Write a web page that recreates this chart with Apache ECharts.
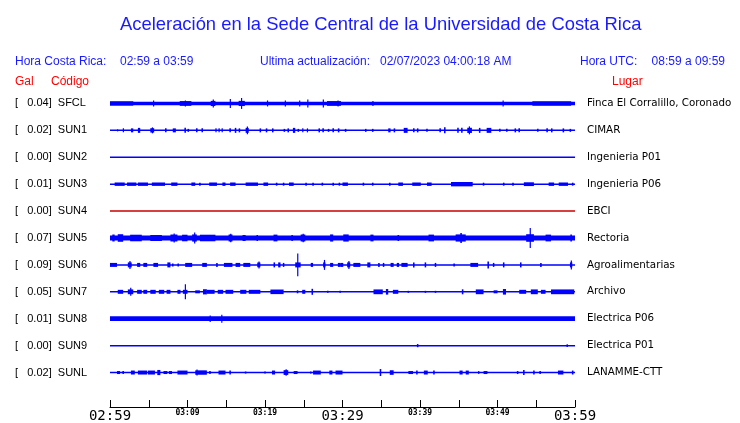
<!DOCTYPE html>
<html>
<head>
<meta charset="utf-8">
<script src="https://cdn.jsdelivr.net/npm/echarts@6/dist/echarts.min.js"></script>
<style>html,body{margin:0;padding:0;background:#fff}#c{width:740px;height:423px}</style>
</head>
<body>
<div id="c"></div>
<script>
// ---------------- DATA ----------------
const codes = ['SFCL','SUN1','SUN2','SUN3','SUN4','SUN5','SUN6','SUN7','SUN8','SUN9','SUNL'];
const galValues = [0.04,0.02,0.00,0.01,0.00,0.07,0.09,0.05,0.01,0.00,0.02];
const places = ['Finca El Corralillo, Coronado','CIMAR','Ingenieria P01','Ingenieria P06','EBCI','Rectoria','Agroalimentarias','Archivo','Electrica P06','Electrica P01','LANAMME-CTT'];
// minutes after 02:59 -> tick labels
const tickMinutes = [0,10,20,30,40,50,60];
const tickLabels = ['02:59','03:09','03:19','03:29','03:39','03:49','03:59'];
// background (noise) amplitude of each trace
const baseAmp = [1.8,0.75,0.75,0.75,0.75,2.5,0.75,0.75,2.4,0.75,0.75];
// bursts: [start minute, end minute, half amplitude]
const sfclEvents = [[0,3,2.2],[5.55,5.65,3],[9,10.5,2.4],[9.65,9.75,3],[13.0,13.6,2.6],[13.25,13.35,4],[15.45,15.55,4.5],[16.9,17.0,5.5],[16.6,17.4,2.6],[20.25,20.35,3],[22.55,22.65,3],[24.4,24.5,3],[25.45,25.55,4],[27.45,27.55,4],[28,29.8,2.4],[29.35,29.45,3],[33.85,33.95,2.5],[50.65,50.75,3],[54.5,59.5,2.3]];
const sun1Events = [[0.9,1.0,1],[1.65,1.75,2],[2.7,3.0,2],[3.6,3.9,2.5],[5.2,5.7,2.2],[5.4,5.5,3],[7.1,7.3,2],[8.1,8.5,2],[9.6,9.8,2.5],[10.0,10.2,1.5],[11.1,11.3,2],[11.8,12.0,2],[13.6,13.7,2],[14.0,14.1,2],[14.4,14.5,2],[15.4,15.6,2],[16.1,16.3,2.5],[16.6,16.8,2],[17.5,17.9,2.5],[17.65,17.75,4],[19.3,19.5,2],[20.1,20.3,2],[20.9,21.1,2],[22.4,22.6,1.5],[22.9,23.1,2],[23.6,23.9,2.5],[24.2,24.4,1.5],[24.8,24.9,2],[25.4,25.5,2],[26.9,27.1,2],[27.4,27.6,2],[28.1,28.3,1.5],[28.7,28.9,2],[29.4,29.6,2],[30.3,30.5,1.5],[32.9,33.1,1.5],[33.8,34.0,1.5],[35.9,36.2,2],[36.6,36.8,2],[37.9,38.4,2.5],[39.1,39.3,2],[39.6,39.8,2],[40.8,41.0,1.5],[42.5,42.7,2],[43.1,43.3,3],[44.8,45.0,2.5],[45.3,45.5,2.5],[46.1,46.7,2.6],[46.3,46.4,4],[47.6,47.8,2.5],[48.6,49.2,2.5],[50.2,50.4,1.5],[51.1,51.3,1.5],[52.2,52.4,2],[52.7,52.9,2],[55.1,55.3,1.5],[56.3,56.5,2],[56.9,57.1,2],[58.4,58.6,2],[59.3,59.5,1.5]];
const sun2Events = [];
const sun3Events = [[0.6,1.9,1.7],[2.2,3.4,1.7],[3.6,4.9,1.7],[5.4,7.1,1.7],[7.9,8.7,1.7],[10.5,11.0,1.7],[11.5,11.7,1.5],[12.8,13.8,1.7],[14.5,14.9,1.7],[15.5,16.2,1.7],[17.5,19.1,1.7],[19.8,20.4,1.7],[21.4,21.6,1.5],[22.3,22.5,1.5],[23.1,23.7,1.7],[25.2,25.4,1.5],[26.1,26.3,1.5],[27.3,27.5,1.5],[28.7,28.9,1.5],[29.5,29.7,1.5],[30.0,30.7,1.7],[32.6,32.8,1.5],[33.8,34.0,1.5],[36.0,36.2,1.5],[37.2,37.8,1.7],[39.0,40.1,1.7],[40.9,41.5,1.7],[44.0,46.8,2.2],[48.1,48.3,1.5],[50.7,50.9,1.5],[51.9,52.1,1.5],[53.4,54.7,1.9],[56.6,57.3,1.7],[57.9,59.1,1.7],[59.6,59.8,1.5]];
const sun4Events = [];
const sun5Events = [[0.3,0.6,3.5],[1.0,1.7,3.8],[2.6,4.1,3.3],[5.2,6.7,3],[7.8,8.7,3.5],[8.2,8.3,4.5],[9.3,10.0,3.3],[10.6,11.2,3.6],[10.85,10.95,5.5],[11.6,13.6,3.3],[15.3,15.8,3.5],[15.5,15.6,4.2],[17.1,17.5,3],[18.9,19.1,3],[21.1,21.6,3.4],[23.4,23.6,3],[24.6,25.2,3.5],[24.85,24.95,4.2],[28.4,28.8,3.6],[30.1,30.8,3.6],[33.6,34.0,3.4],[37.1,37.3,3],[41.1,41.8,3.4],[44.6,45.9,3.6],[45.2,45.4,5],[53.7,54.7,3.8],[54.15,54.25,10],[56.2,56.9,3.4],[59.4,59.6,3.5]];
const sun6Events = [[0,0.9,2],[2.3,2.8,2.5],[2.5,2.6,4],[3.5,3.9,2],[4.3,4.8,2],[5.6,6.2,2],[7.4,7.8,2.5],[8.0,8.2,1.5],[8.7,8.9,1.5],[9.7,10.6,2],[11.9,12.5,2],[13.7,13.9,2],[14.7,15.8,2],[16.2,16.8,2],[17.2,18.1,2],[19.0,19.4,2.4],[19.15,19.25,3.5],[21.1,21.3,2.5],[21.7,22.0,2.5],[22.3,22.5,2],[23.9,24.6,2.5],[24.15,24.25,11.5],[25.9,26.2,2],[27.5,27.8,2.5],[27.6,27.7,5],[28.4,28.8,2],[29.4,29.7,2],[29.7,30.1,2],[30.6,31.0,2.5],[30.75,30.85,4],[31.4,32.3,2],[33.2,33.6,2.5],[34.6,34.8,2],[35.2,35.4,2],[36.2,36.6,2],[37.0,37.3,2],[37.6,38.4,2],[39.1,39.3,2.5],[40.6,40.8,2.5],[41.9,42.1,2],[44.3,44.5,1.5],[46.5,47.5,2],[48.7,48.9,3.5],[49.4,49.6,2],[50.7,50.9,2.5],[52.9,53.1,2.5],[55.5,55.7,2],[59.35,59.65,2.5],[59.45,59.55,4.5]];
const sun7Events = [[1.0,1.7,2],[2.3,3.0,2.4],[2.6,2.7,4],[3.5,4.1,2],[4.3,4.8,2],[5.2,5.9,2],[6.3,7.0,2],[7.3,7.8,2],[8.7,9.1,2],[9.4,10.0,2],[9.65,9.75,7.5],[11.0,11.6,1.5],[12.0,12.5,2.6],[12.5,13.5,2],[13.9,14.6,2],[14.9,15.9,2],[16.8,17.6,2],[17.9,19.4,2],[20.7,22.4,2.3],[24.1,24.3,1.5],[24.8,25.2,2],[26.0,26.2,3],[28.0,28.2,1],[29.6,29.8,1],[34.0,35.2,2.4],[35.6,35.9,2.8],[36.5,37.2,2],[38.4,38.6,1],[40.6,40.8,1],[41.9,42.1,1],[45.4,45.6,2.5],[47.2,48.2,2.4],[49.5,50.0,1.5],[50.7,51.1,2.8],[52.8,53.7,2],[54.3,55.2,2.4],[55.6,56.2,2],[56.9,59.9,2.4]];
const sun8Events = [[12.85,12.95,3.2],[14.35,14.45,4]];
const sun9Events = [[39.6,39.8,1.6],[58.9,59.1,1.3]];
const sunlEvents = [[0.9,1.3,1.5],[1.6,1.8,1.5],[2.7,3.2,2],[3.6,4.8,2],[4.9,5.8,2],[6.1,6.5,2.6],[6.9,7.4,1.5],[7.6,8.0,1.5],[8.7,10.0,2],[11.0,12.5,2.2],[11.15,11.25,3],[12.8,13.0,1.5],[14.0,14.9,2],[15.4,15.6,2],[17.4,17.6,1],[19.9,20.1,1],[20.9,21.3,2],[22.4,23.0,2.4],[22.65,22.75,3.2],[23.7,24.2,1.5],[25.8,26.0,1],[26.2,27.2,2],[28.3,28.7,2],[29.1,30.0,2],[34.8,35.0,3.5],[36.1,36.6,2.3],[38.5,39.1,1.5],[39.5,39.7,2],[40.5,41.0,2],[41.7,41.9,2],[45.1,45.5,2],[45.9,46.3,2],[47.5,47.6,1.5],[48.2,48.7,1.5],[52.5,52.7,1.5],[53.3,53.5,2.5],[54.6,54.8,2],[55.4,55.6,1.5],[57.8,58.5,2],[59.6,59.8,2]];
const traceEvents = [sfclEvents,sun1Events,sun2Events,sun3Events,sun4Events,sun5Events,sun6Events,sun7Events,sun8Events,sun9Events,sunlEvents];
const startMinute = 0, endMinute = 60;

// ---------------- CHART ----------------
const BLUE = '#0000ff';
const TXT_BLUE = '#1a1aff';
const RED = '#ff0000';
const traceColor = i => (codes[i] === 'SUN4' ? '#c80000' : BLUE);
const AMP_UNITS_PER_ROW = 27;

const items = [];
traceEvents.forEach((evs, row) => {
  items.push([startMinute, endMinute, row, baseAmp[row]]);
  evs.forEach(e => items.push([e[0], e[1], row, e[2]]));
});

const tickLabelOf = {};
tickMinutes.forEach((m, i) => tickLabelOf[m] = tickLabels[i]);

const chart = echarts.init(document.getElementById('c'), null, {renderer: 'canvas'});
const textBase = {fontFamily: 'Liberation Sans, Arial, sans-serif', fontSize: 12};
chart.setOption({
  animation: false,
  backgroundColor: '#fff',
  title: {
    text: 'Aceleración en la Sede Central de la Universidad de Costa Rica',
    left: 115, top: 11,
    textStyle: {color: TXT_BLUE, fontSize: 18.4, fontWeight: 'normal', fontFamily: 'Liberation Sans, Arial, sans-serif'}
  },
  graphic: [
    {type: 'text', left: 15, top: 56, style: Object.assign({text: 'Hora Costa Rica:', fill: TXT_BLUE}, textBase)},
    {type: 'text', left: 120, top: 56, style: Object.assign({text: '02:59 a 03:59', fill: TXT_BLUE}, textBase)},
    {type: 'text', left: 260, top: 56, style: Object.assign({text: 'Ultima actualización:', fill: TXT_BLUE}, textBase)},
    {type: 'text', left: 380, top: 56, style: Object.assign({text: '02/07/2023 04:00:18 AM', fill: TXT_BLUE}, textBase)},
    {type: 'text', left: 580, top: 56, style: Object.assign({text: 'Hora UTC:', fill: TXT_BLUE}, textBase)},
    {type: 'text', right: 15, top: 56, style: Object.assign({text: '08:59 a 09:59', fill: TXT_BLUE}, textBase)},
    {type: 'text', left: 15, top: 75.5, style: Object.assign({text: 'Gal', fill: RED}, textBase)},
    {type: 'text', left: 51, top: 75.5, style: Object.assign({text: 'Código', fill: RED}, textBase)},
    {type: 'text', left: 612, top: 75.5, style: Object.assign({text: 'Lugar', fill: RED}, textBase)}
  ],
  grid: {left: 110, right: 165, top: 90, height: 297, containLabel: false},
  xAxis: {
    type: 'value', min: startMinute, max: endMinute, interval: 5,
    offset: 21,
    axisLine: {show: true, lineStyle: {color: '#000', width: 1}},
    axisTick: {show: true, inside: true, length: 7, lineStyle: {color: '#000', width: 1}},
    splitLine: {show: false},
    axisLabel: {
      margin: 2,
      formatter: v => {
        const t = tickLabelOf[v];
        if (!t) return '';
        return (v % 30 === 0) ? '{big|' + t + '}' : '{small|' + t + '}';
      },
      rich: {
        big: {fontFamily: 'DejaVu Sans Mono, monospace', fontSize: 14, color: '#000'},
        small: {fontFamily: 'DejaVu Sans Mono, monospace', fontSize: 8, fontWeight: 'bold', color: '#000', padding: [0,0,5,0]}
      }
    }
  },
  yAxis: [
    {
      type: 'category', inverse: true, data: codes,
      axisLine: {show: false}, axisTick: {show: false}, splitLine: {show: false},
      axisLabel: {
        align: 'left', margin: 95, color: '#000',
        fontFamily: 'Liberation Sans, Arial, sans-serif', fontSize: 11,
        formatter: (v, i) => '[   ' + galValues[i].toFixed(2) + ']  ' + v
      }
    },
    {
      type: 'category', inverse: true, data: places, position: 'right',
      axisLine: {show: false}, axisTick: {show: false}, splitLine: {show: false},
      axisLabel: {
        align: 'left', margin: 12, color: '#000',
        fontFamily: 'DejaVu Sans, sans-serif', fontSize: 10.3
      }
    }
  ],
  series: [{
    type: 'custom',
    coordinateSystem: 'cartesian2d',
    xAxisIndex: 0, yAxisIndex: 0,
    encode: {x: [0, 1], y: 2},
    clip: false,
    data: items,
    renderItem: (params, api) => {
      const s = api.value(0), e = api.value(1), r = api.value(2), a = api.value(3);
      const p0 = api.coord([s, r]);
      const p1 = api.coord([e, r]);
      const band = api.size([0, 1])[1];
      const h = a * band / AMP_UNITS_PER_ROW;
      const w = Math.max(p1[0] - p0[0], 1.2);
      return {
        type: 'rect',
        shape: {x: p0[0], y: p0[1] - h, width: w, height: 2 * h},
        style: {fill: traceColor(r)}
      };
    }
  }]
});
</script>
</body>
</html>
